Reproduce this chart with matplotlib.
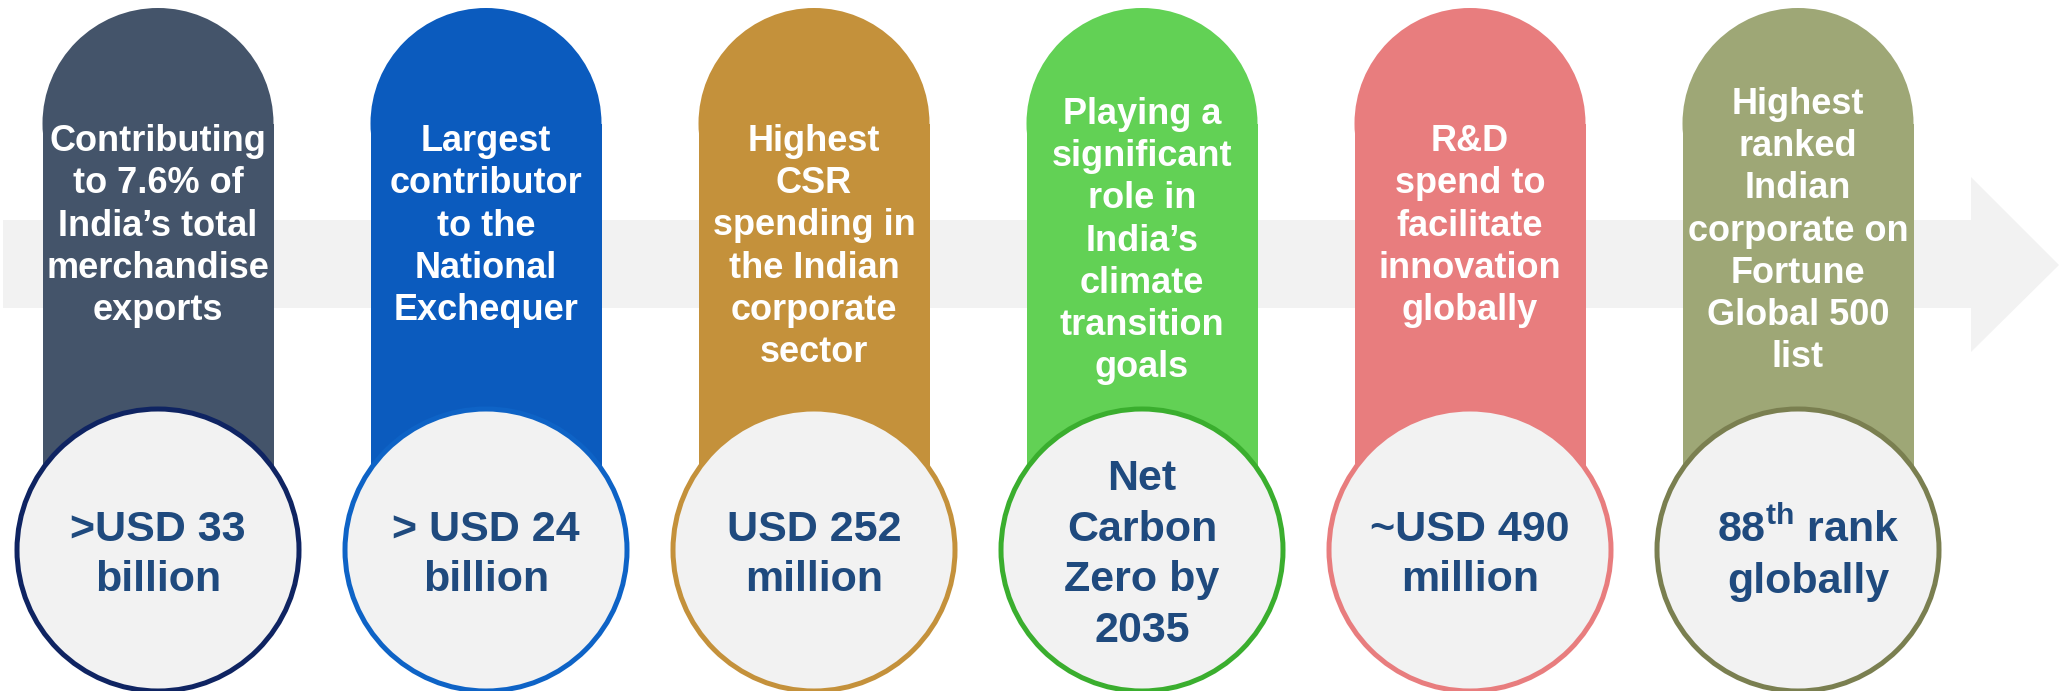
import matplotlib
matplotlib.use("Agg")
import matplotlib.pyplot as plt
from matplotlib.patches import Circle, Rectangle, Polygon

plt.rcParams['font.family'] = ['Liberation Sans', 'DejaVu Sans']
plt.rcParams['mathtext.fontset'] = 'custom'
plt.rcParams['mathtext.rm'] = 'Liberation Sans:bold'
plt.rcParams['mathtext.bf'] = 'Liberation Sans:bold'

# ---- content ----
top_texts = [
    "Contributing\nto 7.6% of\nIndia\u2019s total\nmerchandise\nexports",
    "Largest\ncontributor\nto the\nNational\nExchequer",
    "Highest\nCSR\nspending in\nthe Indian\ncorporate\nsector",
    "Playing a\nsignificant\nrole in\nIndia\u2019s\nclimate\ntransition\ngoals",
    "R&D\nspend to\nfacilitate\ninnovation\nglobally",
    "Highest\nranked\nIndian\ncorporate on\nFortune\nGlobal 500\nlist",
]
values = [
    ">USD 33\nbillion",
    "> USD 24\nbillion",
    "USD 252\nmillion",
    "Net\nCarbon\nZero by\n2035",
    "~USD 490\nmillion",
    "88$^{\\mathrm{th}}$ rank\nglobally",
]
pill_colors = ['#44546A', '#0B5BBE', '#C4913B', '#62D155', '#E87D7E', '#9EA776']
ring_colors = ['#0F2462', '#0E63C6', '#C4913B', '#3AAE2E', '#E87D7E', '#7A7F50']

# ---- layout (pixels) ----
W, H = 2059, 691
x0, dx = 158, 328
pill_r = 115.5
pill_top = 8
circ_y = 550
circ_r = 141
text_y = [226, 226, 247, 241, 226, 231]
band_col = '#F2F2F2'
val_col = '#1F4A7E'

fig = plt.figure(figsize=(W / 100, H / 100), dpi=100)
ax = fig.add_axes([0, 0, 1, 1])
ax.set_xlim(0, W)
ax.set_ylim(H, 0)
ax.axis('off')

# background arrow
arrow = Polygon([(3, 220), (1971, 220), (1971, 177), (2059, 265),
                 (1971, 352), (1971, 308), (3, 308)],
                closed=True, facecolor=band_col, edgecolor='none', zorder=0)
ax.add_patch(arrow)

for i in range(len(top_texts)):
    cx = x0 + i * dx
    # pill: round top + straight body
    ax.add_patch(Circle((cx, pill_top + pill_r), pill_r, facecolor=pill_colors[i],
                        edgecolor='none', zorder=1))
    ax.add_patch(Rectangle((cx - pill_r, pill_top + pill_r), 2 * pill_r,
                           circ_y - pill_top - pill_r, facecolor=pill_colors[i],
                           edgecolor='none', zorder=1))
    ax.text(cx, text_y[i], top_texts[i], ha='center', va='center', color='white',
            fontsize=26, fontweight='bold', linespacing=1.26, zorder=3)
    # value circle
    ax.add_patch(Circle((cx, circ_y), circ_r, facecolor=band_col,
                        edgecolor=ring_colors[i], linewidth=3.6, zorder=2))
    tx = cx + (10 if i == 5 else 0)
    ax.text(tx, circ_y + 5, values[i], ha='center', va='center', color=val_col,
            fontsize=31, fontweight='bold', linespacing=1.35, zorder=3)

fig.savefig('out.png', dpi=100)
